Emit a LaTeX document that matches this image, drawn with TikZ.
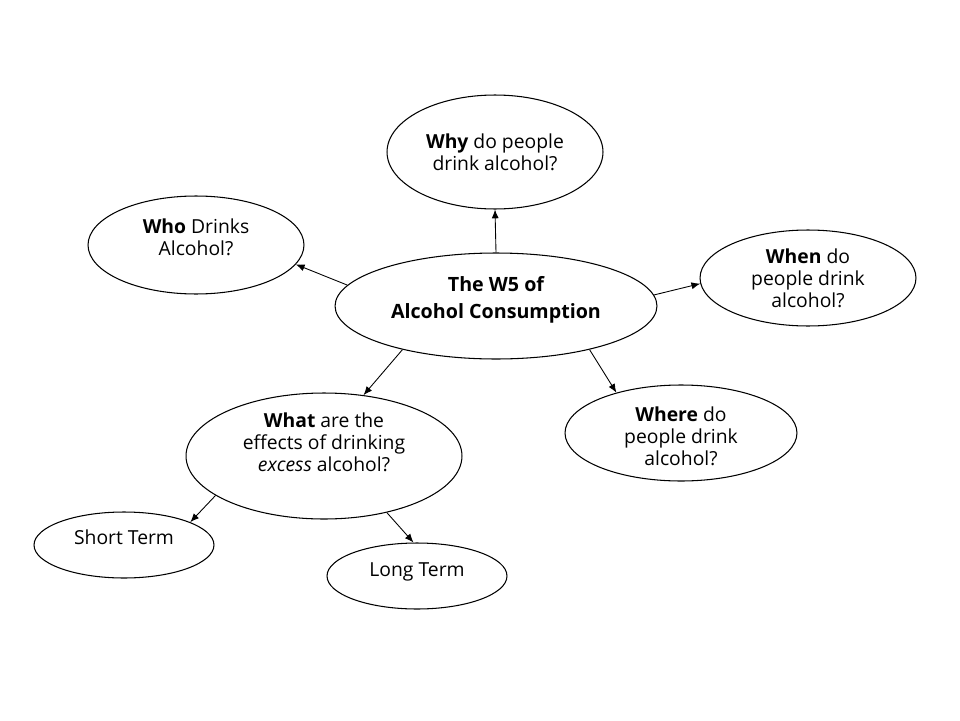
\documentclass[tikz,border=0pt]{standalone}
\usepackage{fontspec}
\setmainfont{Open Sans}
\usetikzlibrary{shapes.geometric,arrows.meta}
\begin{document}
\begin{tikzpicture}[x=0.02cm,y=-0.02cm,
  bub/.style={draw,ellipse,inner sep=0pt,line width=0.6pt},
  txt/.style={align=center,inner sep=0pt,font=\fontsize{11}{12.5}\selectfont},
  conn/.style={-{Latex[length=5pt,width=4pt]},line width=0.5pt}]
\useasboundingbox (0,0) rectangle (960,720);
\node[bub,minimum width=6.44cm,minimum height=2.12cm] (c) at (496,306) {};
\node[txt,font=\fontsize{11.2}{15.3}\selectfont\bfseries] (ct) at ([yshift=0.12cm]c) {The W5 of\\Alcohol Consumption};
\node[bub,minimum width=4.32cm,minimum height=2.28cm] (why) at (495,152) {};
\node[txt] (whyt) at (why) {\textbf{Why} do people\\drink alcohol?};
\node[bub,minimum width=4.32cm,minimum height=1.96cm] (who) at (196,245) {};
\node[txt] (whot) at ([yshift=0.16cm]who) {\textbf{Who} Drinks\\Alcohol?};
\node[bub,minimum width=4.32cm,minimum height=1.92cm] (when) at (808,278) {};
\node[txt] (whent) at (when) {\textbf{When} do\\people drink\\alcohol?};
\node[bub,minimum width=4.64cm,minimum height=1.92cm] (where) at (681,433) {};
\node[txt] (wheret) at ([yshift=-0.06cm]where) {\textbf{Where} do\\people drink\\alcohol?};
\node[bub,minimum width=5.52cm,minimum height=2.52cm] (what) at (324,456) {};
\node[txt] (whatt) at ([yshift=0.28cm]what) {\textbf{What} are the\\effects of drinking\\\textit{excess} alcohol?};
\node[bub,minimum width=3.6cm,minimum height=1.32cm] (st) at (124,545) {};
\node[txt] (stt) at ([yshift=0.16cm]st) {Short Term};
\node[bub,minimum width=3.6cm,minimum height=1.32cm] (lt) at (417,576) {};
\node[txt] (ltt) at ([yshift=0.08cm]lt) {Long Term};
\draw[conn] (c.90) -- (why.270);
\draw[conn] (c.172) -- (who.349);
\draw[conn] (c.4.6) -- (when.183.7);
\draw[conn] (c.335) -- (where.148);
\draw[conn] (c.205) -- (what.57);
\draw[conn] (what.200.6) -- (st.19.2);
\draw[conn] (what.318) -- (lt.96.5);
\end{tikzpicture}
\end{document}
